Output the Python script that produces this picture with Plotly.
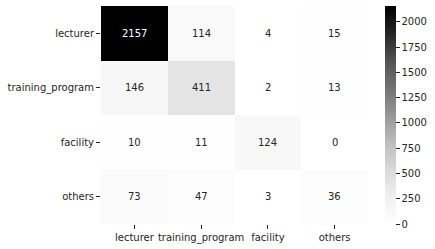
import plotly.graph_objects as go

labels = ["lecturer", "training_program", "facility", "others"]
matrix = [
    [2157, 114, 4, 15],
    [146, 411, 2, 13],
    [10, 11, 124, 0],
    [73, 47, 3, 36],
]
cbar_ticks = [0, 250, 500, 750, 1000, 1250, 1500, 1750, 2000]

greys = [
    [0.0, "#ffffff"], [0.125, "#f0f0f0"], [0.25, "#d9d9d9"], [0.375, "#bdbdbd"],
    [0.5, "#969696"], [0.625, "#737373"], [0.75, "#525252"], [0.875, "#252525"],
    [1.0, "#000000"],
]

vmax = max(max(r) for r in matrix)
vmin = min(min(r) for r in matrix)

fig = go.Figure(go.Heatmap(
    z=matrix, x=labels, y=labels, colorscale=greys, zmin=vmin, zmax=vmax,
    xgap=0, ygap=0,
    colorbar=dict(
        x=1.0637, xanchor="left", xref="paper", thickness=11, thicknessmode="pixels",
        len=1, lenmode="fraction", y=0.5, yanchor="middle", outlinewidth=0,
        xpad=0, ypad=0,
        tickvals=cbar_ticks, ticks="outside", ticklen=4, tickcolor="#262626",
        tickfont=dict(family="DejaVu Sans", size=10, color="#262626"),
    ),
    hoverinfo="skip",
))

for i, row in enumerate(matrix):
    for j, v in enumerate(row):
        color = "#ffffff" if v / vmax > 0.6 else "#262626"
        fig.add_annotation(x=labels[j], y=labels[i], text=str(v), showarrow=False,
                           font=dict(family="DejaVu Sans", size=10, color=color))

fig.update_layout(
    width=435, height=249,
    margin=dict(l=101, r=67, t=6, b=25, autoexpand=False),
    paper_bgcolor="white", plot_bgcolor="white",
    font=dict(family="DejaVu Sans", size=10, color="#262626"),
)
fig.update_xaxes(showgrid=False, zeroline=False, ticks="outside", ticklen=4,
                 tickcolor="#262626", showline=False, tickangle=0, automargin=False,
                 tickfont=dict(family="DejaVu Sans", size=10, color="#262626"))
fig.update_yaxes(showgrid=False, zeroline=False, ticks="outside", ticklen=4,
                 tickcolor="#262626", showline=False, autorange="reversed",
                 automargin=False,
                 tickfont=dict(family="DejaVu Sans", size=10, color="#262626"))

fig.write_html("out.html", config={"displayModeBar": False},
               post_script="document.body.style.margin='0';document.body.style.overflow='hidden';")
